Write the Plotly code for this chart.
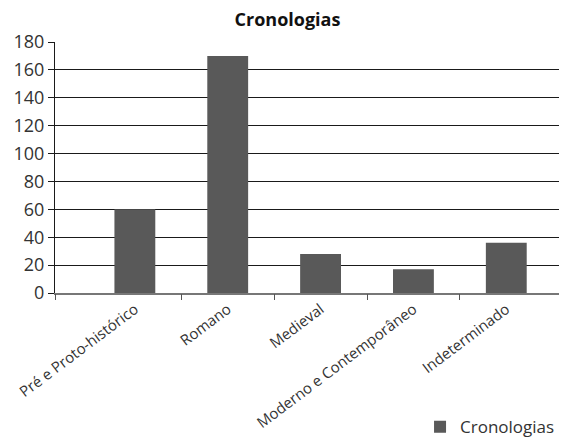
import plotly.graph_objects as go

categories = ["Pré e Proto-histórico", "Romano", "Medieval", "Moderno e Contemporâneo", "Indeterminado"]
values = [60, 170, 28, 17, 36]
series_name = "Cronologias"
y_ticks = [0, 20, 40, 60, 80, 100, 120, 140, 160, 180]

FONT = "Open Sans"
BAR = "#595959"
XR = [-0.86, 4.6]

fig = go.Figure()
fig.add_trace(go.Bar(x=categories, y=values, name=series_name, marker_color=BAR,
                     marker_line_width=0))
# invisible trace to host the boundary tick axis
fig.add_trace(go.Scatter(x=[0], y=[0], xaxis="x2", mode="markers",
                         marker_opacity=0, showlegend=False, hoverinfo="skip"))

fig.update_layout(
    width=559, height=430,
    margin=dict(l=47, r=5, t=34, b=145, autoexpand=False),
    paper_bgcolor="white", plot_bgcolor="white",
    font=dict(family=FONT, color="#333333"),
    title=dict(text="<b>Cronologias</b>", x=0.5, xanchor="center", y=0.972, yanchor="middle",
               font=dict(family=FONT, size=18, color="#111111")),
    bargap=0.56,
    showlegend=True,
    legend=dict(x=0.72, xanchor="left", y=-0.535, yanchor="middle",
                font=dict(family=FONT, size=17, color="#333333"),
                bgcolor="rgba(0,0,0,0)", borderwidth=0),
    xaxis=dict(type="category", range=XR, showgrid=False, ticks="", automargin=False,
               showline=True, linecolor="#777777", linewidth=1.5,
               tickangle=-37, tickfont=dict(family=FONT, size=15, color="#333333"),
               zeroline=False),
    xaxis2=dict(overlaying="x", range=XR, side="bottom", anchor="y", automargin=False,
                tickvals=[-0.86, 0.5, 1.5, 2.5, 3.5], ticks="outside", ticklen=6,
                tickcolor="#555555", showticklabels=False, showgrid=False,
                showline=False, zeroline=False),
    yaxis=dict(range=[0, 180], tickvals=y_ticks, showgrid=True, gridcolor="#1a1a1a",
               gridwidth=1, showline=True, linecolor="#1a1a1a", linewidth=1, automargin=False,
               ticks="outside", ticklen=6, tickcolor="#1a1a1a",
               tickfont=dict(family=FONT, size=18, color="#333333"), zeroline=False),
)

fig.write_html("out.html")
